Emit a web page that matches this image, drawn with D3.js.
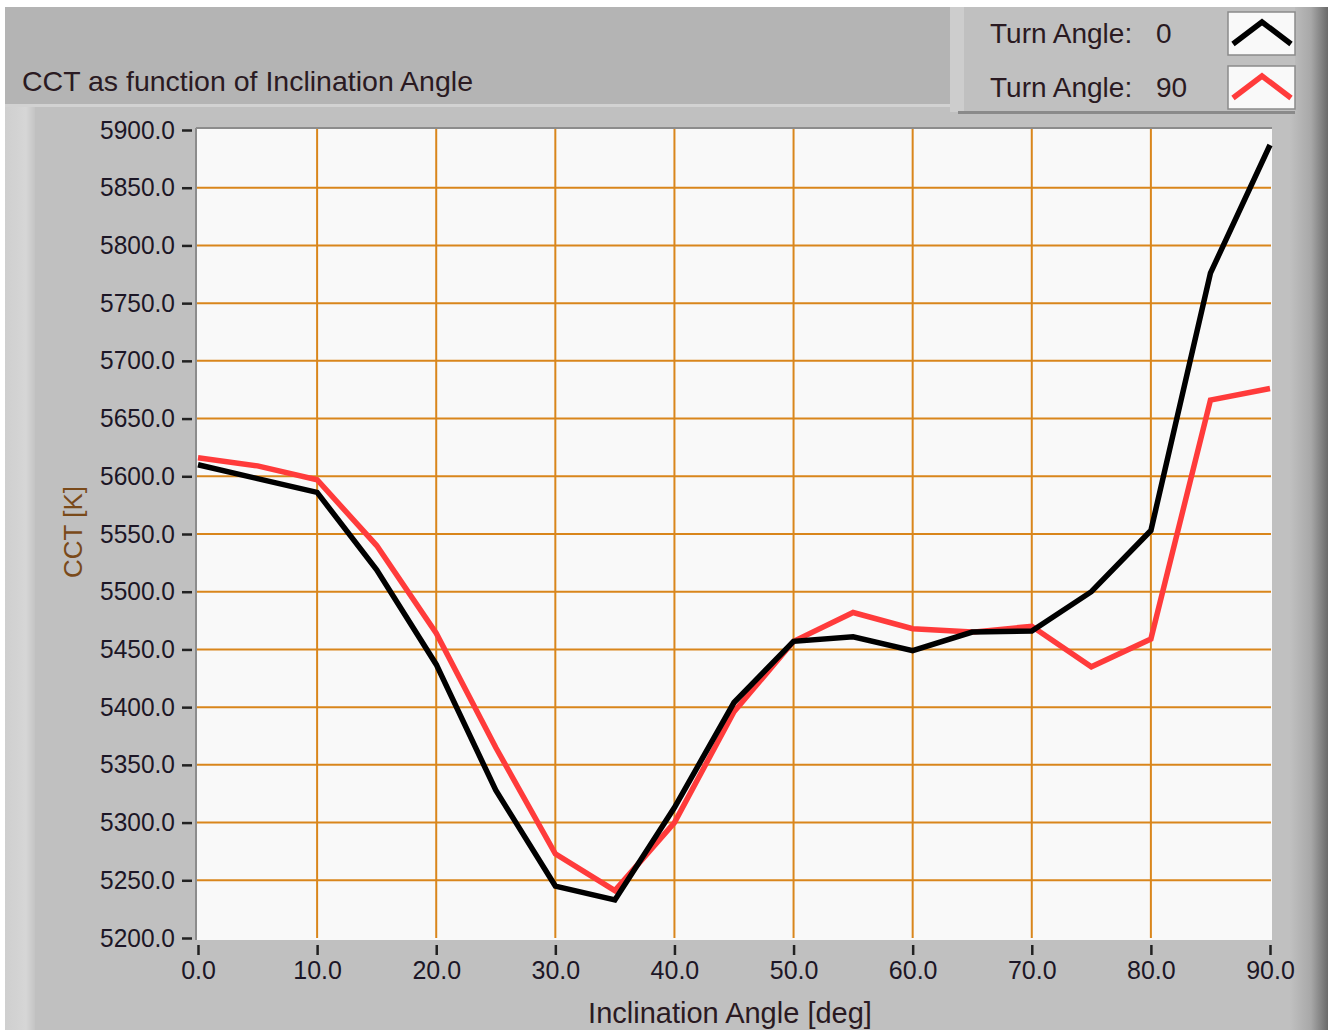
<!DOCTYPE html>
<html>
<head>
<meta charset="utf-8">
<script src="https://cdn.jsdelivr.net/npm/d3@7"></script>
<style>
body { margin: 0; background: #fff; }
text { font-family: "Liberation Sans", Arial, sans-serif; }
</style>
</head>
<body>
<div class="chart"></div>
<script>
// data
const angles = [0, 5, 10, 15, 20, 25, 30, 35, 40, 45, 50, 55, 60, 65, 70, 75, 80, 85, 90];
const cctTurn0 = [5610, 5598, 5586, 5519, 5437, 5328, 5245, 5233, 5313, 5404, 5457, 5461, 5449, 5465, 5466, 5500, 5553, 5776, 5887];
const cctTurn90 = [5616, 5609, 5597, 5540, 5464, 5365, 5273, 5241, 5300, 5396, 5457, 5482, 5468, 5465, 5470, 5435, 5459, 5666, 5676];
const seriesNames = ['Turn Angle:', 'Turn Angle:'];
const seriesValues = ['0', '90'];
const seriesColors = ['#000000', '#ff3b3b'];
const xTicks = [0, 10, 20, 30, 40, 50, 60, 70, 80, 90];
const yTicks = [5200, 5250, 5300, 5350, 5400, 5450, 5500, 5550, 5600, 5650, 5700, 5750, 5800, 5850, 5900];

const SVGWIDTH = 1328;
const SVGHEIGHT = 1030;
const PLOT = {left: 198, right: 1270, top: 130, bottom: 938};

let svg = d3.select('.chart')
  .append('svg')
  .attr('width', SVGWIDTH)
  .attr('height', SVGHEIGHT);

// defs for bevels
const defs = svg.append('defs');
const leftGrad = defs.append('linearGradient').attr('id', 'leftBevel');
leftGrad.append('stop').attr('offset', '0%').attr('stop-color', '#cfcfcf');
leftGrad.append('stop').attr('offset', '70%').attr('stop-color', '#d6d6d6');
leftGrad.append('stop').attr('offset', '100%').attr('stop-color', '#c4c4c4');
const rightGrad = defs.append('linearGradient').attr('id', 'rightBevel');
rightGrad.append('stop').attr('offset', '0%').attr('stop-color', '#c0c0c0');
rightGrad.append('stop').attr('offset', '55%').attr('stop-color', '#a8a8a8');
rightGrad.append('stop').attr('offset', '100%').attr('stop-color', '#6a6a6a');

// panel background
svg.append('rect').attr('x', 5).attr('y', 7).attr('width', SVGWIDTH - 5).attr('height', SVGHEIGHT - 7).attr('fill', '#c0c0c0');
svg.append('rect').attr('x', 5).attr('y', 107).attr('width', 30).attr('height', SVGHEIGHT - 107).attr('fill', 'url(#leftBevel)');
svg.append('rect').attr('x', 1290).attr('y', 7).attr('width', 38).attr('height', SVGHEIGHT - 7).attr('fill', 'url(#rightBevel)');

// title band
svg.append('rect').attr('x', 5).attr('y', 7).attr('width', 945).attr('height', 97).attr('fill', '#b4b4b4');
svg.append('rect').attr('x', 5).attr('y', 104).attr('width', 945).attr('height', 3).attr('fill', '#d2d2d2');
svg.append('text')
  .attr('x', 22).attr('y', 91)
  .attr('font-size', 28.5)
  .attr('fill', '#2a1a22')
  .text('CCT as function of Inclination Angle');

// legend box
const legend = svg.append('g');
legend.append('rect').attr('x', 950).attr('y', 7).attr('width', 345).attr('height', 105).attr('fill', '#c0c0c0');
legend.append('rect').attr('x', 950).attr('y', 7).attr('width', 14).attr('height', 105).attr('fill', '#cdcdcd');
legend.append('rect').attr('x', 958).attr('y', 111).attr('width', 337).attr('height', 3).attr('fill', '#8a8a8a');

seriesNames.forEach(function(name, i) {
  const y0 = 12 + i * 54;
  legend.append('text')
    .attr('x', 990).attr('y', y0 + 31)
    .attr('font-size', 28)
    .attr('fill', '#2a1a22')
    .text(name);
  legend.append('text')
    .attr('x', 1156).attr('y', y0 + 31)
    .attr('font-size', 28)
    .attr('fill', '#2a1a22')
    .text(seriesValues[i]);
  legend.append('rect')
    .attr('x', 1228).attr('y', y0).attr('width', 67).attr('height', 43)
    .attr('fill', '#f9f9f9').attr('stroke', '#8a8a8a').attr('stroke-width', 1.5);
  legend.append('path')
    .attr('d', `M1233,${y0 + 32} L1262,${y0 + 10} L1291,${y0 + 32}`)
    .attr('fill', 'none')
    .attr('stroke', seriesColors[i])
    .attr('stroke-width', 5.5);
});

// scales
let xScale = d3.scaleLinear().domain([0, 90]).range([PLOT.left, PLOT.right]);
let yScale = d3.scaleLinear().domain([5200, 5900]).range([PLOT.bottom, PLOT.top]);

// plot area
svg.append('rect')
  .attr('x', PLOT.left - 1).attr('y', PLOT.top - 2)
  .attr('width', PLOT.right - PLOT.left + 3).attr('height', PLOT.bottom - PLOT.top + 4)
  .attr('fill', '#f9f9f9');
svg.append('line')
  .attr('x1', PLOT.left - 2).attr('x2', PLOT.right + 2)
  .attr('y1', PLOT.top - 2).attr('y2', PLOT.top - 2)
  .attr('stroke', '#8c8c8c').attr('stroke-width', 2);
svg.append('line')
  .attr('x1', PLOT.left - 2).attr('x2', PLOT.left - 2)
  .attr('y1', PLOT.top - 2).attr('y2', PLOT.bottom + 2)
  .attr('stroke', '#8c8c8c').attr('stroke-width', 2);

// grid
const grid = svg.append('g');
grid.selectAll('.vgrid')
  .data(xTicks.slice(1, -1))
  .enter().append('line')
  .attr('x1', d => xScale(d)).attr('x2', d => xScale(d))
  .attr('y1', PLOT.top - 1).attr('y2', PLOT.bottom)
  .attr('stroke', '#d9861c').attr('stroke-width', 2);
grid.selectAll('.hgrid')
  .data(yTicks.slice(1, -1))
  .enter().append('line')
  .attr('x1', PLOT.left - 1).attr('x2', PLOT.right + 1)
  .attr('y1', d => yScale(d)).attr('y2', d => yScale(d))
  .attr('stroke', '#d9861c').attr('stroke-width', 2);

// axes
const leftAxis = d3.axisLeft(yScale)
  .tickValues(yTicks)
  .tickFormat(d3.format('.1f'))
  .tickSize(10).tickPadding(7);
const bottomAxis = d3.axisBottom(xScale)
  .tickValues(xTicks)
  .tickFormat(d3.format('.1f'))
  .tickSize(10).tickPadding(6);

const yAxisG = svg.append('g')
  .attr('transform', `translate(${PLOT.left - 6}, 0)`)
  .call(leftAxis);
const xAxisG = svg.append('g')
  .attr('transform', `translate(0, ${PLOT.bottom + 7})`)
  .call(bottomAxis);

[yAxisG, xAxisG].forEach(function(g) {
  g.select('.domain').remove();
  g.selectAll('.tick line').attr('stroke', '#222').attr('stroke-width', 2.5);
  g.selectAll('.tick text')
    .attr('fill', '#1c1626')
    .attr('font-size', 25)
    .attr('font-family', '"Liberation Sans", Arial, sans-serif');
});
yAxisG.selectAll('.tick text').attr('textLength', 75).attr('lengthAdjust', 'spacingAndGlyphs');

// series lines
const line = d3.line()
  .x((d, i) => xScale(angles[i]))
  .y(d => yScale(d));

[cctTurn90, cctTurn0].forEach(function(values, k) {
  svg.append('path')
    .datum(values)
    .attr('d', line)
    .attr('fill', 'none')
    .attr('stroke', k === 0 ? seriesColors[1] : seriesColors[0])
    .attr('stroke-width', 5.5)
    .attr('stroke-linejoin', 'miter');
});

// axis labels
svg.append('text')
  .attr('transform', 'translate(82, 532) rotate(-90)')
  .attr('text-anchor', 'middle')
  .attr('font-size', 26)
  .attr('fill', '#7a4a1a')
  .text('CCT [K]');

svg.append('text')
  .attr('x', 730)
  .attr('y', 1023)
  .attr('text-anchor', 'middle')
  .attr('font-size', 29)
  .attr('fill', '#2a1a22')
  .text('Inclination Angle [deg]');
</script>
</body>
</html>
